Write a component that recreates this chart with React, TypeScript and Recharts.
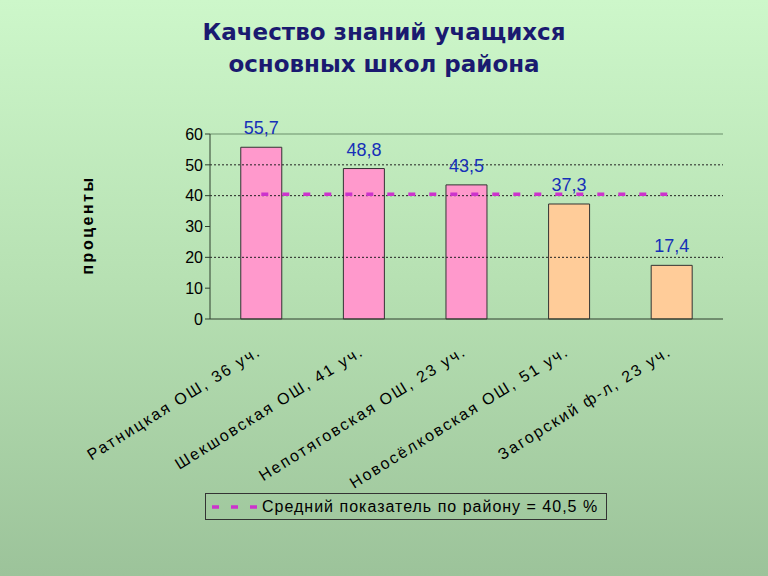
import React from 'react';
import {
  ComposedChart,
  Bar,
  Line,
  Cell,
  XAxis,
  YAxis,
  ReferenceLine,
  LabelList,
} from 'recharts';

const schools = [
  'Ратницкая ОШ, 36 уч.',
  'Шекшовская ОШ, 41 уч.',
  'Непотяговская ОШ, 23 уч.',
  'Новосёлковская ОШ, 51 уч.',
  'Загорский ф-л, 23 уч.',
];
const quality = [55.7, 48.8, 43.5, 37.3, 17.4];
const districtAvg = 40.5;
const yTicks = [0, 10, 20, 30, 40, 50, 60];
const gridValues = [20, 40, 50];
const boundaryTicks = [0, 1, 2, 3, 4, 5];

const barColors = ['#ff99cc', '#ff99cc', '#ff99cc', '#ffcc99', '#ffcc99'];
const avgColor = '#cc33cc';
const labelFont = '"Liberation Sans", Arial, sans-serif';

const chartData = schools.map((name, i) => ({
  name,
  value: quality[i],
  avg: districtAvg,
}));

const fmt = (v: any) => String(v).replace('.', ',');

const SchoolTick = (props: any) => {
  const { x, y, payload } = props;
  return (
    <text
      x={x + 1}
      y={y + 21}
      transform={`rotate(-32, ${x + 1}, ${y + 21})`}
      textAnchor="end"
      fontSize={16}
      fontFamily={labelFont}
      letterSpacing={2}
      fill="#000"
    >
      {payload.value}
    </text>
  );
};

const AvgLegend = () => (
  <div
    style={{
      position: 'absolute',
      left: 205,
      top: 493,
      width: 402,
      height: 27,
      border: '1px solid #333',
      display: 'flex',
      alignItems: 'center',
      boxSizing: 'border-box',
    }}
  >
    <svg width={56} height={25}>
      <line x1={6} y1={13} x2={52} y2={13} stroke={avgColor} strokeWidth={3.5} strokeDasharray="7 12" />
    </svg>
    <span style={{ fontFamily: labelFont, fontSize: 16, letterSpacing: 1, color: '#000', whiteSpace: 'nowrap' }}>
      Средний показатель по району = 40,5 %
    </span>
  </div>
);

export default function App() {
  return (
    <div
      style={{
        position: 'fixed',
        top: 0,
        left: 0,
        width: 768,
        height: 576,
        background: 'linear-gradient(180deg, #cdf7ca 0%, #b6e0b2 50%, #9cc39a 100%)',
        overflow: 'hidden',
      }}
    >
      <div
        style={{
          position: 'absolute',
          top: 16,
          left: 0,
          width: 768,
          textAlign: 'center',
          fontFamily: '"DejaVu Sans", sans-serif',
          fontWeight: 'bold',
          fontSize: 23,
          lineHeight: '32px',
          color: '#1a1a70',
        }}
      >
        Качество знаний учащихся
        <br />
        основных школ района
      </div>
      <div
        style={{
          position: 'absolute',
          left: 88,
          top: 225,
          transform: 'translate(-50%, -50%) rotate(-90deg)',
          fontFamily: labelFont,
          fontSize: 16,
          fontWeight: 'bold',
          letterSpacing: 2.5,
          color: '#000',
          whiteSpace: 'nowrap',
        }}
      >
        проценты
      </div>
      <div style={{ position: 'absolute', top: 0, left: 0 }}>
        <ComposedChart
          width={768}
          height={576}
          data={chartData}
          margin={{ top: 134, right: 45, left: 160, bottom: 0 }}
          barCategoryGap="30%"
        >
          <XAxis
            xAxisId="bnd"
            type="number"
            domain={[0, 5]}
            ticks={boundaryTicks}
            tick={false}
            tickSize={5}
            height={6}
            axisLine={{ stroke: '#2e3e2e' }}
            tickLine={{ stroke: '#2e3e2e' }}
          />
          <XAxis
            xAxisId="cat"
            dataKey="name"
            height={251}
            interval={0}
            axisLine={false}
            tickLine={false}
            tick={<SchoolTick />}
          />
          <YAxis
            domain={[0, 60]}
            ticks={yTicks}
            width={50}
            tickSize={5}
            axisLine={{ stroke: '#2e3e2e' }}
            tickLine={{ stroke: '#2e3e2e' }}
            tick={{ fontSize: 16, fontFamily: labelFont, fill: '#000' }}
          />
          <YAxis
            yAxisId="r"
            orientation="right"
            domain={[0, 60]}
            width={0}
            tick={false}
            tickLine={false}
            axisLine={{ stroke: '#6b8f6b' }}
          />
          <ReferenceLine xAxisId="cat" y={60} stroke="#6b8f6b" />
          {gridValues.map((g) => (
            <ReferenceLine key={g} xAxisId="cat" y={g} stroke="#222" strokeDasharray="2 2" />
          ))}
          <Bar xAxisId="cat" dataKey="value" stroke="#333" strokeWidth={1} isAnimationActive={false}>
            {chartData.map((d, i) => (
              <Cell key={d.name} fill={barColors[i]} />
            ))}
          </Bar>
          <Line
            xAxisId="cat"
            dataKey="avg"
            stroke={avgColor}
            strokeWidth={3.5}
            strokeDasharray="7 14"
            dot={false}
            activeDot={false}
            isAnimationActive={false}
          />
          <Line
            xAxisId="cat"
            dataKey="value"
            stroke="none"
            dot={false}
            activeDot={false}
            isAnimationActive={false}
          >
            <LabelList
              dataKey="value"
              position="top"
              offset={13}
              formatter={fmt}
              style={{ fontSize: 18, fontFamily: labelFont, fill: '#1630b8' }}
            />
          </Line>
        </ComposedChart>
      </div>
      <AvgLegend />
    </div>
  );
}
